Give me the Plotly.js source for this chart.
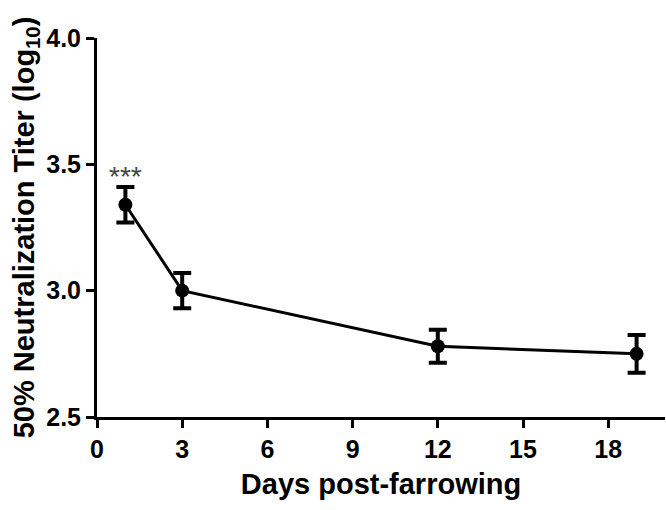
<!DOCTYPE html>
<html>
<head>
<meta charset="utf-8">
<script src="https://cdn.plot.ly/plotly-3.0.1.min.js"></script>
<style>
  body { margin: 0; background: #fff; }
  #plot { width: 666px; height: 510px; }
</style>
</head>
<body>
<div id="plot"></div>
<script>
// days after farrowing and the mean titer with its error
let days = [1, 3, 12, 19];
let titers = [3.34, 3.0, 2.78, 2.75];
let errors = [0.07, 0.07, 0.065, 0.075];

let xTicks = [0, 3, 6, 9, 12, 15, 18];
let yTicks = [2.5, 3.0, 3.5, 4.0];

// significance mark over the first day
let starText = "***";
let starX = 1;
let starY = 3.45;

let font = "Arial, 'Liberation Sans', sans-serif";

let titerTrace = {
    x: days,
    y: titers,
    mode: "lines+markers",
    type: "scatter",
    line: { color: "#000", width: 3 },
    marker: { color: "#000", size: 14 },
    error_y: {
        type: "data",
        array: errors,
        visible: true,
        color: "#000",
        thickness: 4,
        width: 9
    },
    cliponaxis: false,
    showlegend: false
};

let layout = {
    width: 666,
    height: 510,
    paper_bgcolor: "#fff",
    plot_bgcolor: "#fff",
    margin: { l: 97, r: 1, t: 38, b: 93 },
    font: { family: font, color: "#000" },
    xaxis: {
        range: [0, 20],
        tickvals: xTicks,
        ticktext: xTicks.map(String),
        showgrid: false,
        zeroline: false,
        showline: true,
        linecolor: "#000",
        linewidth: 3,
        ticks: "outside",
        ticklen: 8,
        tickwidth: 3,
        tickcolor: "#000",
        tickfont: { family: font, size: 25, color: "#000", weight: "bold" },
        title: {
            text: "Days post-farrowing",
            font: { family: font, size: 29, color: "#000", weight: "bold" },
            standoff: 12
        }
    },
    yaxis: {
        range: [2.5, 4.0],
        tickvals: yTicks,
        ticktext: yTicks.map(v => v.toFixed(1)),
        showgrid: false,
        zeroline: false,
        showline: true,
        linecolor: "#000",
        linewidth: 3,
        ticks: "outside",
        ticklen: 8,
        tickwidth: 3,
        tickcolor: "#000",
        tickfont: { family: font, size: 25, color: "#000", weight: "bold" },
        title: {
            text: "50% Neutralization Titer (log<sub>10</sub>)",
            font: { family: font, size: 29, color: "#000", weight: "bold" },
            standoff: 4
        }
    },
    annotations: [{
        x: starX,
        y: starY,
        text: starText,
        showarrow: false,
        font: { family: font, size: 28, color: "#444" }
    }]
};

Plotly.newPlot("plot", [titerTrace], layout, { displayModeBar: false, staticPlot: true });
</script>
</body>
</html>
